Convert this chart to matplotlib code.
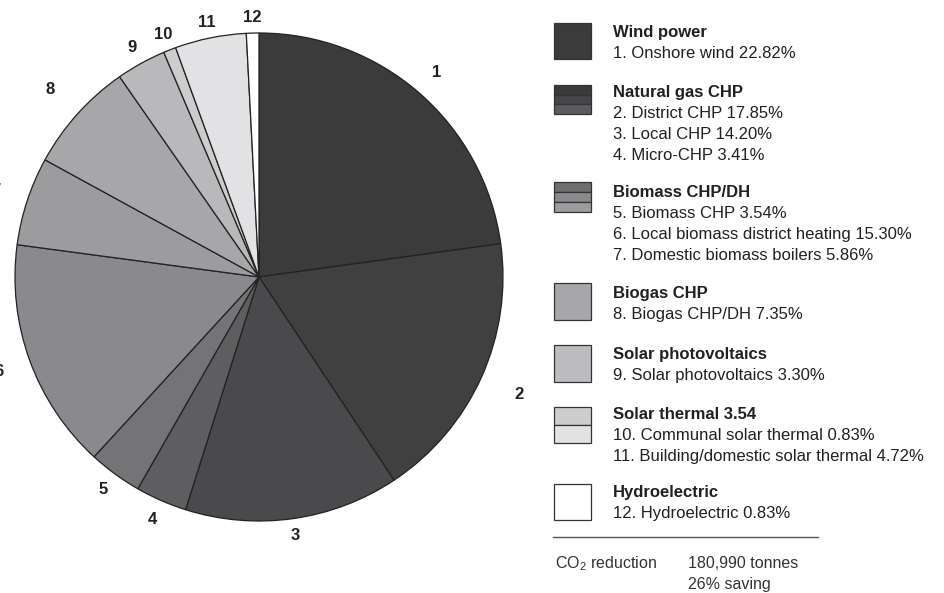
import matplotlib
matplotlib.use("Agg")
import matplotlib.pyplot as plt
from matplotlib.patches import Rectangle
import numpy as np

plt.rcParams['font.family'] = ['Liberation Sans', 'DejaVu Sans']
plt.rcParams['mathtext.fontset'] = 'custom'
plt.rcParams['mathtext.rm'] = 'Liberation Sans'
plt.rcParams['mathtext.it'] = 'Liberation Sans:italic'
plt.rcParams['mathtext.bf'] = 'Liberation Sans:bold'

# ---- data ----
slice_names = ["Onshore wind", "District CHP", "Local CHP", "Micro-CHP",
               "Biomass CHP", "Local biomass district heating",
               "Domestic biomass boilers", "Biogas CHP/DH",
               "Solar photovoltaics", "Communal solar thermal",
               "Building/domestic solar thermal", "Hydroelectric"]
slice_values = [22.82, 17.85, 14.20, 3.41, 3.54, 15.30, 5.86, 7.35, 3.30, 0.83, 4.72, 0.83]
slice_labels = ["1", "2", "3", "4", "5", "6", "7", "8", "9", "10", "11", "12"]
group_titles = ["Wind power", "Natural gas CHP", "Biomass CHP/DH", "Biogas CHP",
                "Solar photovoltaics", "Solar thermal 3.54", "Hydroelectric"]
group_members = [[0], [1, 2, 3], [4, 5, 6], [7], [8], [9, 10], [11]]
co2_label = "CO$_2$ reduction"
co2_lines = ["180,990 tonnes", "26% saving"]

# ---- styles ----
slice_colors = ["#3b3b3c", "#404041", "#4a4a4c", "#5e5e60", "#747477", "#8a8a8e",
                "#9c9c9f", "#a7a7aa", "#b9b9bc", "#cdcdcf", "#e2e2e4", "#ffffff"]
swatch_colors = [["#3b3b3c"], ["#3a3a3b", "#464648", "#5c5c5e"],
                 ["#6f6f72", "#8a8a8d", "#9c9c9f"], ["#a7a7aa"], ["#bcbcbe"],
                 ["#cdcdcf", "#e2e2e4"], ["#ffffff"]]
label_r = [1.11, 1.17, 1.07, 1.085, 1.08, 1.134, 1.134, 1.15, 1.075, 1.07, 1.065, 1.065]
text_color = "#231f20"

W, H = 945, 593
fig = plt.figure(figsize=(W / 100, H / 100), dpi=100)

cx, cy, R = 259, 277, 244
ax = fig.add_axes([(cx - R) / W, (H - cy - R) / H, 2 * R / W, 2 * R / H])
wedges, _ = ax.pie(slice_values, colors=slice_colors, startangle=90, counterclock=False,
                   radius=1, wedgeprops=dict(edgecolor="#222222", linewidth=0.9))
ax.set_xlim(-1, 1)
ax.set_ylim(-1, 1)
ax.set_aspect('equal')
ax.axis('off')

for w, lab, r in zip(wedges, slice_labels, label_r):
    ang = np.deg2rad((w.theta1 + w.theta2) / 2)
    ax.text(r * np.cos(ang), r * np.sin(ang), lab, ha='center', va='center',
            fontsize=12, fontweight='bold', color=text_color, clip_on=False)

# overlay axes in pixel coordinates for legend
ov = fig.add_axes([0, 0, 1, 1])
ov.set_xlim(0, W)
ov.set_ylim(H, 0)
ov.axis('off')

group_tops = [25, 85, 185, 286, 347, 407, 485]
swatch_tops = [23, 85, 182, 283, 345, 407, 484]
swatch_h = [36, 29, 30, 37, 37, 36, 36]
sx, sw = 554, 37
tx = 613
line_gap = 21
cap = 12

for gi, title in enumerate(group_titles):
    cols = swatch_colors[gi]
    n = len(cols)
    sh = swatch_h[gi] / n
    for k, c in enumerate(cols):
        ov.add_patch(Rectangle((sx, swatch_tops[gi] + k * sh), sw, sh, facecolor=c,
                               edgecolor="#333333", linewidth=0.9))
    base = group_tops[gi] + cap
    ov.text(tx, base, title, fontsize=12, fontweight='bold', color=text_color, va='baseline')
    for j, idx in enumerate(group_members[gi]):
        ov.text(tx, base + line_gap * (j + 1),
                f"{slice_labels[idx]}. {slice_names[idx]} {slice_values[idx]:.2f}%",
                fontsize=12, color=text_color, va='baseline')

ov.plot([553, 818], [537, 537], color="#555555", linewidth=1)
ov.text(555, 568, co2_label, fontsize=11.5, color="#333333", va='baseline')
for j, t in enumerate(co2_lines):
    ov.text(688, 568 + 21 * j, t, fontsize=11.5, color="#333333", va='baseline')

fig.savefig("out.png", dpi=100)
